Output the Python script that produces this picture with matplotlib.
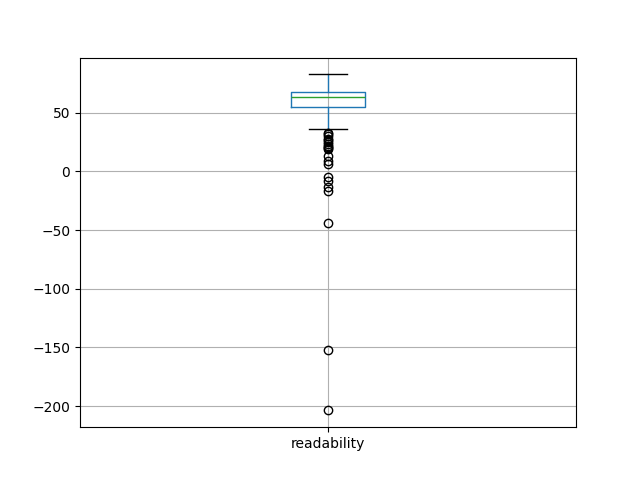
import matplotlib
matplotlib.use("Agg")
import matplotlib.pyplot as plt

# summary stats
label = "readability"
q1, med, q3 = 55.0, 63.0, 67.8
whislo, whishi = 36.4, 83.0
fliers = [33, 32, 30, 28, 27, 25, 23, 22, 21, 20, 19, 13, 9, 6,
          -5, -8, -13, -17, -44, -152, -203]

stats = [{"label": label, "q1": q1, "med": med, "q3": q3,
          "whislo": whislo, "whishi": whishi, "fliers": fliers}]

fig, ax = plt.subplots(figsize=(6.4, 4.8), dpi=100)
ax.bxp(stats,
       boxprops=dict(color="#1f77b4"),
       whiskerprops=dict(color="#1f77b4"),
       medianprops=dict(color="#2ca02c"),
       capprops=dict(color="k"),
       flierprops=dict(marker="o", markeredgecolor="k", markerfacecolor="none"))
ax.grid(True)
ax.set_ylim(-218, 97)
plt.savefig("out.png")
